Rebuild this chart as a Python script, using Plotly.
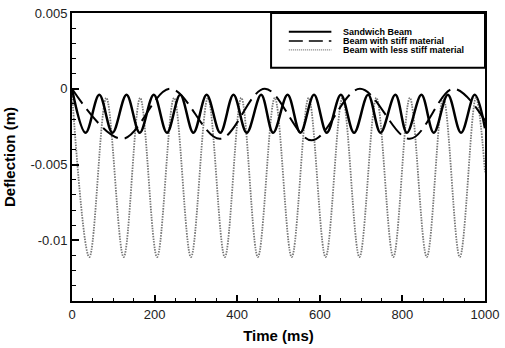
import plotly.graph_objects as go

# ---- data (extrema of each oscillation) ----
sandwich_t = [0, 33, 66, 98, 132, 164, 198, 230, 262, 294, 326, 359, 391, 423, 458, 487,
              522, 553, 586, 617, 651, 683, 717, 747, 783, 811, 846, 876, 910, 942, 975, 1000]
sandwich_d = [0.0, -0.0029, -0.0004, -0.0029, -0.0004, -0.0029, -0.0004, -0.0029,
              -0.0004, -0.0029, -0.0004, -0.0029, -0.0004, -0.0029, -0.0004, -0.0029,
              -0.0004, -0.0029, -0.0004, -0.0029, -0.0004, -0.0029, -0.0004, -0.0029,
              -0.0004, -0.0029, -0.0004, -0.0029, -0.0004, -0.0029, -0.0004, -0.0026]

stiff_t = [0, 122, 238, 358, 467, 580, 697, 818, 923, 1000]
stiff_d = [0.0, -0.0033, 0.0, -0.0033, 0.0, -0.0034, 0.0, -0.0033, 0.0, -0.0021]

less_t = [0, 42, 83, 125, 165, 206, 247, 288, 329, 370, 410, 450, 491, 532, 573, 614,
          655, 696, 737, 778, 818, 859, 899, 939, 978, 1000]
less_d = [-0.0003, -0.0111, -0.0006, -0.0111, -0.0006, -0.0111, -0.0006, -0.0111,
          -0.0006, -0.0111, -0.0006, -0.0111, -0.0006, -0.0111, -0.0006, -0.0111,
          -0.0006, -0.0111, -0.0006, -0.0111, -0.0006, -0.0111, -0.0006, -0.0111,
          -0.0006, -0.0055]

series_names = ["Sandwich Beam", "Beam with stiff material", "Beam with less stiff material"]

x_ticks = [0, 200, 400, 600, 800, 1000]
y_tickvals = [0.005, 0, -0.005, -0.01]
y_ticktext = ["0.005", "0", "-0.005", "-0.01"]

# ---- styles ----
FONT = "Liberation Sans, Arial, Helvetica, sans-serif"
styles = [
    dict(color="black", width=2.5, dash="solid"),
    dict(color="black", width=2.0, dash="18px,7px"),
    dict(color="#777777", width=1.8, dash="1.5px,1.2px"),
]

fig = go.Figure()
# draw order: dotted, solid, dashed
for t, d, name, st in [(less_t, less_d, series_names[2], styles[2]),
                       (sandwich_t, sandwich_d, series_names[0], styles[0]),
                       (stiff_t, stiff_d, series_names[1], styles[1])]:
    fig.add_trace(go.Scatter(x=t, y=d, mode="lines", name=name,
                             line=dict(shape="spline", smoothing=1, **st),
                             showlegend=False))

axis_common = dict(showgrid=False, zeroline=False, showline=True, linecolor="black",
                   linewidth=2, mirror=True, ticks="inside", tickcolor="black",
                   tickwidth=2, tickfont=dict(family=FONT, size=13, color="#222"))

fig.update_xaxes(range=[0, 1000], tickmode="array", tickvals=x_ticks,
                 ticktext=[str(v) for v in x_ticks], ticklen=6,
                 minor=dict(dtick=50, tick0=0, ticks="inside", ticklen=3,
                            tickcolor="black", tickwidth=1),
                 title=dict(text="<b>Time (ms)</b>", font=dict(family=FONT, size=15, color="black"),
                            standoff=10),
                 **axis_common)
fig.update_yaxes(range=[-0.014, 0.005], tickmode="array", tickvals=y_tickvals,
                 ticktext=y_ticktext, ticklen=7,
                 minor=dict(dtick=0.001, tick0=0, ticks="inside", ticklen=4,
                            tickcolor="black", tickwidth=1),
                 title=dict(text="<b>Deflection (m)</b>", font=dict(family=FONT, size=15, color="black"),
                            standoff=11),
                 **axis_common)

# ---- manual legend (box + keys + labels) ----
leg_box = dict(x0=0.482, x1=1.0, y0=0.81, y1=1.0)
key_x = (0.525, 0.628)
text_x = 0.652
row_y = [0.935, 0.903, 0.872]

shapes = [dict(type="rect", xref="paper", yref="paper", fillcolor="white",
               line=dict(color="black", width=2), layer="above", **leg_box)]
annotations = []
for i, name in enumerate(series_names):
    st = styles[i]
    shapes.append(dict(type="line", xref="paper", yref="paper",
                       x0=key_x[0], x1=key_x[1], y0=row_y[i], y1=row_y[i], layer="above",
                       line=dict(color=st["color"], width=st["width"] * 0.8,
                                 dash="14px,6px" if i == 1 else ("1px,1px" if i == 2 else "solid"))))
    annotations.append(dict(xref="paper", yref="paper", x=text_x, y=row_y[i],
                            xanchor="left", yanchor="middle", showarrow=False,
                            text="<b>" + name + "</b>",
                            font=dict(family=FONT, size=9, color="black")))

fig.update_layout(width=505, height=348,
                  margin=dict(l=72, r=16, t=6, b=42),
                  paper_bgcolor="white", plot_bgcolor="white",
                  shapes=shapes, annotations=annotations,
                  font=dict(family=FONT))

fig.write_html("out.html")
